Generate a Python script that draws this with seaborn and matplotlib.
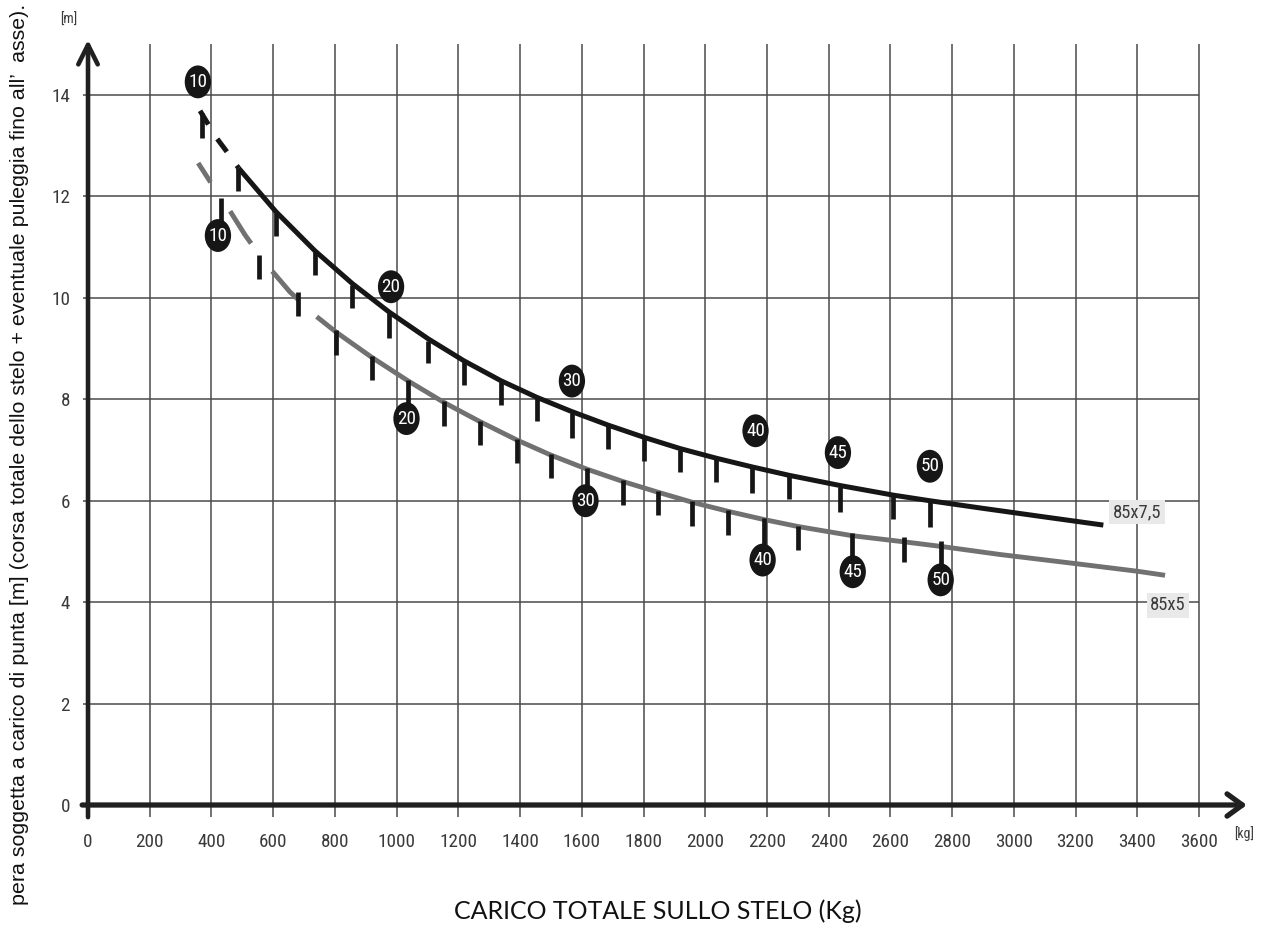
import numpy as np
import pandas as pd
import matplotlib
matplotlib.use("Agg")
import matplotlib.pyplot as plt
from matplotlib.path import Path
from matplotlib import font_manager as fm
import seaborn as sns

# ---------------- data ----------------
x_tick_values = [0, 200, 400, 600, 800, 1000, 1200, 1400, 1600, 1800, 2000,
                 2200, 2400, 2600, 2800, 3000, 3200, 3400, 3600]
y_tick_values = [0, 2, 4, 6, 8, 10, 12, 14]
x_grid_values = x_tick_values[1:]
y_grid_values = y_tick_values[1:]

series_names = ["85x7,5", "85x5"]
badge_text = ["10", "20", "30", "40", "45", "50"]

# 85x7,5 (black)
black_dash_kg = [363, 417, 449, 488]
black_dash_m = [13.69, 13.15, 12.89, 12.56]
black_kg = [488, 609, 735, 857, 976, 1103, 1218, 1337, 1454, 1567, 1686, 1802,
            1918, 2035, 2150, 2273, 2437, 2610, 2728, 2900, 3100, 3290]
black_m = [12.56, 11.70, 10.93, 10.28, 9.72, 9.19, 8.76, 8.37, 8.04, 7.76, 7.49,
           7.25, 7.03, 6.84, 6.67, 6.50, 6.30, 6.11, 6.00, 5.85, 5.68, 5.52]
black_mark_kg = [486, 609, 735, 857, 1103, 1218, 1337, 1454, 1686, 1802, 1918,
                 2035, 2273, 2610]
black_mark_m = [12.56, 11.68, 10.90, 10.25, 9.16, 8.73, 8.34, 8.02, 7.47, 7.23,
                7.01, 6.82, 6.48, 6.09]
black_badge_mark_kg = [368, 976, 1567, 2150, 2437, 2728]
black_badge_mark_m = [13.65, 9.70, 7.74, 6.65, 6.28, 5.98]
black_badge_kg = [356, 982, 1568, 2163, 2430, 2728]
black_badge_m = [14.26, 10.22, 8.36, 7.38, 6.95, 6.68]

# 85x5 (gray)
gray_dash_kg = [357, 395, 444, 509, 574, 654, 741]
gray_dash_m = [12.66, 12.30, 11.87, 11.24, 10.69, 10.12, 9.63]
gray_kg = [741, 803, 919, 1038, 1153, 1270, 1389, 1500, 1618, 1733, 1846, 1958,
           2075, 2190, 2302, 2477, 2644, 2763, 2955, 3200, 3400, 3490]
gray_m = [9.63, 9.33, 8.83, 8.36, 7.94, 7.56, 7.20, 6.90, 6.62, 6.38, 6.17, 5.97,
          5.79, 5.63, 5.49, 5.31, 5.19, 5.10, 4.94, 4.76, 4.61, 4.53]
gray_mark_kg = [555, 682, 803, 919, 1153, 1270, 1389, 1500, 1733, 1846, 1958,
                2075, 2302, 2644]
gray_mark_m = [10.85, 10.12, 9.36, 8.86, 7.96, 7.58, 7.22, 6.92, 6.40, 6.19,
               5.99, 5.81, 5.51, 5.28]
gray_badge_mark_kg = [431, 1038, 1618, 2190, 2477, 2763]
gray_badge_mark_m = [11.97, 8.38, 6.64, 5.65, 5.36, 5.20]
gray_badge_kg = [421, 1032, 1612, 2186, 2478, 2763]
gray_badge_m = [11.23, 7.62, 6.00, 4.83, 4.60, 4.44]

label_kg = [3399, 3500]
label_m = [5.78, 3.94]

y_label = ("pera soggetta a carico di punta [m] (corsa totale dello stelo + "
           "eventuale puleggia fino all\u2019  asse).")
x_label = "CARICO TOTALE SULLO STELO (Kg)"

# ---------------- style ----------------
sns.set_theme(style="white")
names = {f.name for f in fm.fontManager.ttflist}
if "Liberation Sans Narrow" in names:
    NARROW, NUM_SIZE = "Liberation Sans Narrow", 14
elif "Roboto Condensed" in names:
    NARROW, NUM_SIZE = "Roboto Condensed", 13.8
else:
    NARROW, NUM_SIZE = "Liberation Sans", 11.5
plt.rcParams["font.family"] = [NARROW, "DejaVu Sans"]

BLACK = "#161616"
GRAY = "#717171"
GRID = "#4a4a4a"
TXT = "#3a3a3a"

fig = plt.figure(figsize=(12.63, 9.30), dpi=100)
ax = fig.add_axes([0.05991, 0.10714, 0.93828, 0.87243])
ax.set_xlim(-40, 3800)
ax.set_ylim(-0.5, 15.5)
for s in ax.spines.values():
    s.set_visible(False)

# grid
ax.vlines(x_grid_values, -0.24, 15.0, color=GRID, lw=1.1, zorder=1)
ax.hlines(y_grid_values, -16, 3600, color=GRID, lw=1.1, zorder=1)

# axes with arrows
ax.annotate("", xy=(3755, 0), xytext=(-19, 0), annotation_clip=False,
            arrowprops=dict(arrowstyle="->,head_length=0.55,head_width=0.4",
                            lw=3.8, color="#202020", mutation_scale=20,
                            shrinkA=0, shrinkB=0), zorder=2)
ax.annotate("", xy=(0, 15.09), xytext=(0, -0.24), annotation_clip=False,
            arrowprops=dict(arrowstyle="->,head_length=0.7,head_width=0.35",
                            lw=3.3, color="#202020", mutation_scale=20,
                            shrinkA=0, shrinkB=0), zorder=2)

# curves
common = dict(ax=ax, sort=False, estimator=None, legend=False,
              solid_capstyle="butt", dash_capstyle="butt",
              solid_joinstyle="round")
sns.lineplot(x=black_dash_kg, y=black_dash_m, color=BLACK, linewidth=3.6,
             linestyle=(0, (3.2, 3.4)), zorder=3, **common)
sns.lineplot(x=black_kg, y=black_m, color=BLACK, linewidth=3.6, zorder=3, **common)
sns.lineplot(x=gray_dash_kg, y=gray_dash_m, color=GRAY, linewidth=3.5,
             linestyle=(3.2, (7.9, 7.2)), zorder=3, **common)
sns.lineplot(x=gray_kg, y=gray_m, color=GRAY, linewidth=3.5, zorder=3, **common)

# step marks
bm = np.array(black_mark_m)
ax.vlines(black_mark_kg, bm - 0.45, bm, color=BLACK, lw=3.4, zorder=4)
bbm = np.array(black_badge_mark_m)
ax.vlines(black_badge_mark_kg, bbm - 0.5, bbm, color=BLACK, lw=3.4, zorder=4)
gm = np.array(gray_mark_m)
ax.vlines(gray_mark_kg, gm - 0.48, gm, color=BLACK, lw=3.4, zorder=4)
ax.vlines(gray_badge_mark_kg, gray_badge_m, gray_badge_mark_m, color=BLACK,
          lw=3.4, zorder=4)

# badges
uc = Path.unit_circle()
ell = Path(uc.vertices * np.array([0.8, 1.0]), uc.codes)
badges = pd.DataFrame({
    "kg": black_badge_kg + gray_badge_kg,
    "m": black_badge_m + gray_badge_m,
    "txt": badge_text + badge_text,
})
sns.scatterplot(data=badges, x="kg", y="m", marker=ell, s=560, color=BLACK,
                edgecolor="none", linewidth=0, ax=ax, zorder=5, legend=False)
for kx, my, t in zip(badges["kg"], badges["m"], badges["txt"]):
    ax.text(kx, my, t, ha="center", va="center", color="white",
            fontsize=NUM_SIZE, zorder=6, clip_on=False)

# series labels
for kx, my, t in zip(label_kg, label_m, series_names):
    ax.text(kx, my, t, ha="center", va="center", color=TXT,
            fontsize=NUM_SIZE * 0.97, zorder=6,
            bbox=dict(boxstyle="square,pad=0.18", fc="#e9e9e9", ec="none"))

# ticks
ax.set_xticks(x_tick_values, labels=[str(v) for v in x_tick_values])
ax.set_yticks(y_tick_values, labels=[str(v) for v in y_tick_values])
ax.tick_params(axis="x", length=0, pad=2, labelsize=NUM_SIZE, labelcolor=TXT)
ax.tick_params(axis="y", length=0, pad=4, labelsize=NUM_SIZE, labelcolor=TXT)
ax.set_xlabel("")
ax.set_ylabel("")

# units
fig.text(69 / 1263, 1 - 20 / 930, "[m]", ha="center", va="center",
         fontsize=10, color=TXT)
fig.text(1244 / 1263, 1 - 834 / 930, "[kg]", ha="center", va="center",
         fontsize=10, color=TXT)

# axis titles
fig.text(20 / 1263, 1 - 4 / 930, y_label, rotation=90, ha="center", va="top",
         fontsize=15.4, family=["Liberation Sans", "DejaVu Sans"], color="#111111")
fig.text(658 / 1263, 1 - 911 / 930, x_label, ha="center", va="center",
         fontsize=18, family=["Lato", "DejaVu Sans"], color="#111111")

fig.savefig("out.png", dpi=100, facecolor="white")
